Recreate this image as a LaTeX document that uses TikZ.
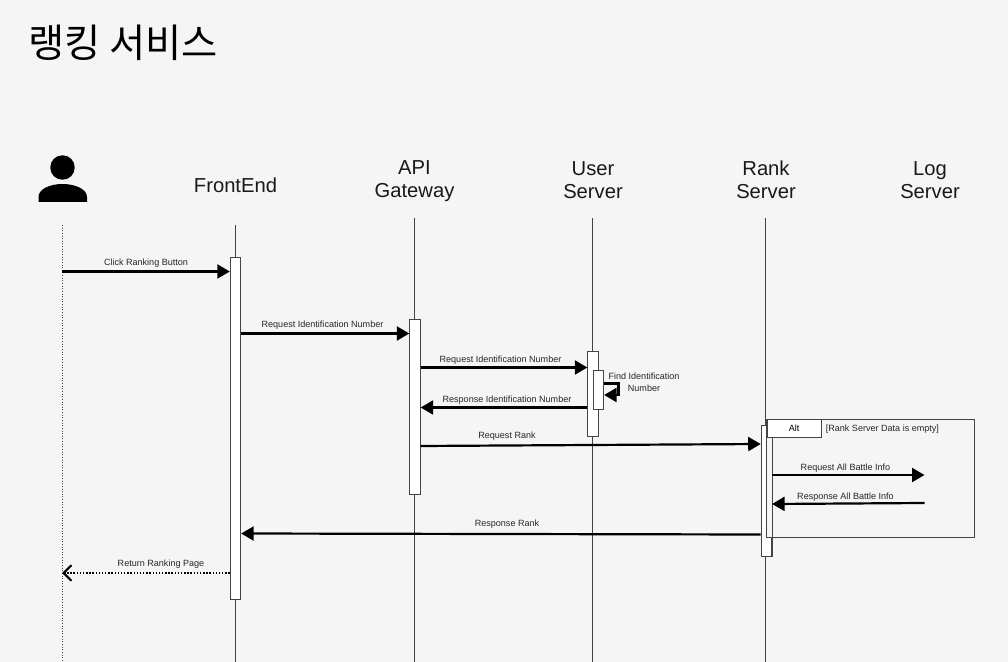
\documentclass[tikz,border=0pt]{standalone}
\usepackage{fontspec}
\setmainfont{Liberation Sans}
\newfontfamily\cjk{Noto Sans CJK KR}
\usetikzlibrary{arrows.meta}
\definecolor{pagegray}{HTML}{F5F5F5}
\definecolor{linegray}{HTML}{444444}
\tikzset{
    head/.style={font=\fontsize{11.5pt}{13.1pt}\selectfont, align=center, text=black!90},
    msg/.style={font=\fontsize{5.15pt}{6.6pt}\selectfont, align=center, text=black!85, inner sep=0pt},
    life/.style={draw=linegray, line width=0.5pt},
    bar/.style={draw=linegray, fill=white, line width=0.5pt, minimum width=0.21cm, inner sep=0pt},
    call/.style={draw=black, line width=1.25pt, -{Triangle[length=0.25cm,width=0.28cm]}},
    back/.style={draw=black, line width=0.8pt, densely dotted, -{Straight Barb[length=0.16cm,width=0.31cm,line width=1.2pt]}}
}
\begin{document}
\begin{tikzpicture}[x=0.02cm,y=-0.02cm]
	\useasboundingbox[fill=pagegray] (0,0) rectangle (1008,662);
	\node[anchor=west, inner sep=0pt, font=\cjk\fontsize{22.4pt}{25pt}\selectfont] (title) at (28,43) {랭킹 서비스};
	% user icon
	\node[circle, fill=black, minimum size=0.49cm, inner sep=0pt] (userhead) at (62.5,167.5) {};
	\fill (38.5,202) -- (38.5,197) .. controls (38.5,189) and (50,184) .. (62.5,184) .. controls (75,184) and (87,189) .. (87,197) -- (87,202) -- cycle;
	% headers
	\node[head] (front) at (235.5,185) {FrontEnd};
	\node[head] (gateway) at (414.5,181.5) {API\\Gateway};
	\node[head] (user) at (593,180) {User\\Server};
	\node[head] (rank) at (766,180) {Rank\\Server};
	\node[head] (log) at (930,180) {Log\\Server};
	% lifelines
	\coordinate (ctop) at (62,225);
	\coordinate (cbot) at (62,662);
	\draw[life, densely dotted] (ctop) -- (cbot);
	\draw[life] (235.5,225) -- (235.5,662);
	\draw[life] (414,218) -- (414,662);
	\draw[life] (592.5,218) -- (592.5,662);
	\draw[life] (765.7,218) -- (765.7,662);
	% activations
	\node[bar, minimum height=6.85cm] (frontbar) at (235.5,428.7) {};
	\node[bar, minimum height=3.51cm] (gatewaybar) at (415,407.2) {};
	\node[bar, minimum height=1.69cm] (userbar) at (593,393.8) {};
	\node[bar, minimum height=0.79cm] (userinner) at (598.4,389.8) {};
	\node[bar, minimum height=2.62cm] (rankbar) at (766.4,491.2) {};
	% alt frame
	\node[draw=linegray, fill=pagegray, line width=0.5pt, minimum width=4.15cm, minimum height=2.36cm, inner sep=0pt] (altframe) at (870.3,478.4) {};
	\draw[life] (rankbar.north east) -- (rankbar.south east);
	\node[draw=linegray, fill=white, line width=0.5pt, minimum width=1.09cm, minimum height=0.36cm, inner sep=0pt, font=\fontsize{5.15pt}{6.6pt}\selectfont] (altbox) at (794.2,428.4) {Alt};
	\node[msg, anchor=west] (altcond) at (825.5,428.8) {[Rank Server Data is empty]};
	% messages
	\draw[call] (ctop |- 0,271.5) -- (frontbar.west |- 0,271.5);
	\draw[call] (frontbar.east |- 0,333.5) -- (gatewaybar.west |- 0,333.5);
	\draw[call] (gatewaybar.east |- 0,367.5) -- (userbar.west |- 0,367.5);
	\draw[call] (userbar.west |- 0,407.5) -- (gatewaybar.east |- 0,407.5);
	\draw[call] (userinner.east |- 0,383.5) -- (618.5,383.5) -- (618.5,395) -- (userinner.east |- 0,395);
	\draw[call] (gatewaybar.east |- 0,446) -- (rankbar.west |- 0,444);
	\coordinate (battle1) at (924.5,475);
	\coordinate (battle2) at (924.5,503);
	\draw[call] (rankbar.east |- 0,475) -- (battle1);
	\draw[call] (battle2) -- (rankbar.east |- 0,504);
	\draw[call] (rankbar.west |- 0,534.5) -- (frontbar.east |- 0,533.5);
	\draw[back] (frontbar.west |- 0,573) -- (ctop |- 0,573);
	% labels
	\node[msg] (l1) at (146,263.5) {Click Ranking Button};
	\node[msg] (l2) at (322.5,325.5) {Request Identification Number};
	\node[msg] (l3) at (500.5,360) {Request Identification Number};
	\node[msg] (l4) at (507,400.5) {Response Identification Number};
	\node[msg] (l5) at (644,382) {Find Identification\\Number};
	\node[msg] (l6) at (507,436.5) {Request Rank};
	\node[msg] (l7) at (845.5,468) {Request All Battle Info};
	\node[msg] (l8) at (845.5,497.5) {Response All Battle Info};
	\node[msg] (l9) at (507,524.5) {Response Rank};
	\node[msg] (l10) at (161,564) {Return Ranking Page};
\end{tikzpicture}
\end{document}
